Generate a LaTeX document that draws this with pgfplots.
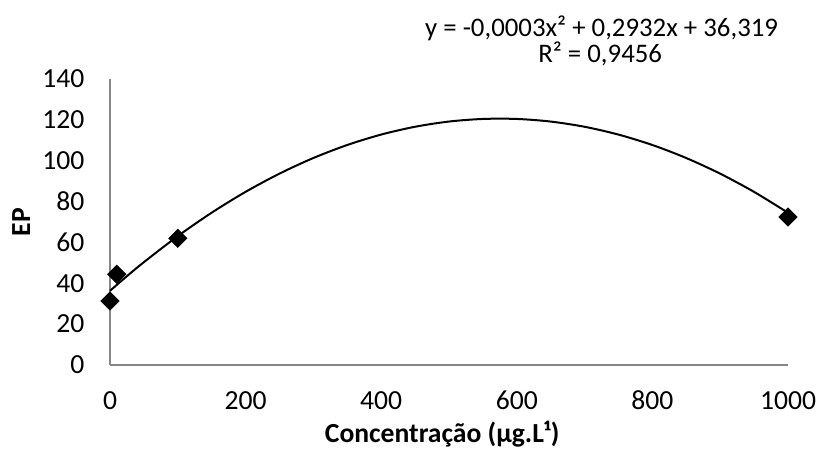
\documentclass[border=0pt]{standalone}
\usepackage{pgfplots}
\pgfplotsset{compat=1.18}
\usepackage{fontspec}
\setmainfont{Carlito}
\definecolor{axisgray}{HTML}{868686}

\begin{document}
\fontsize{13.8}{16}\selectfont
\begin{tikzpicture}
\path[use as bounding box] (0,0) rectangle (408pt,226.5pt);
\begin{axis}[at={(55pt,44pt)},anchor=south west,scale only axis,width=339pt,height=143pt,
  xmin=0,xmax=1000,ymin=0,ymax=140,xtick={0,200,...,1000},ytick={0,20,...,140},
  axis lines=left,axis line style={-,draw=axisgray,line width=1pt},
  major tick length=0pt,clip=false,
  /pgf/number format/assume math mode=true,/pgf/number format/1000 sep={},
  tick label style={font=\fontsize{13.8}{16}\selectfont},
  yticklabel style={anchor=east,xshift=-8pt},
  xticklabel style={anchor=base,yshift=-22.5pt},
  xlabel={\textbf{Concentração (µg.L¹)}},
  xlabel style={at={(axis description cs:0.49,0)},anchor=base,yshift=-39pt,font=\fontsize{13.8}{16}\selectfont},
  ylabel={\textbf{EP}},
  ylabel style={at={(axis description cs:-0.131,0.5)},anchor=center,font=\fontsize{13.8}{16}\selectfont}]
% trend line (polynomial fit as drawn)
\addplot[black,line width=1pt,smooth,no marks] coordinates {
(0,36.32) (25,43.49) (50,50.34) (100,63.09) (150,74.56) (200,84.76) (250,93.68)
(300,101.33) (350,107.70) (400,112.80) (450,116.62) (500,119.17) (550,120.44)
(600,120.44) (650,119.16) (700,116.61) (750,112.78) (800,107.68) (850,101.30)
(900,93.65) (950,84.72) (1000,74.52)};
% observed points
\addplot[only marks,mark=square*,mark size=3.2pt,mark options={rotate=45,fill=black,draw=black}] coordinates {
(0,31.3) (10,44.4) (100,62.0) (1000,72.4)};
\node[anchor=base,inner sep=0pt,font=\fontsize{13.4}{15}\selectfont] at (axis cs:725,160.6) {y = -0,0003x² + 0,2932x + 36,319};
\node[anchor=base,inner sep=0pt,font=\fontsize{13.4}{15}\selectfont] at (axis cs:723,148.2) {R² = 0,9456};
\end{axis}
\end{tikzpicture}
\end{document}
